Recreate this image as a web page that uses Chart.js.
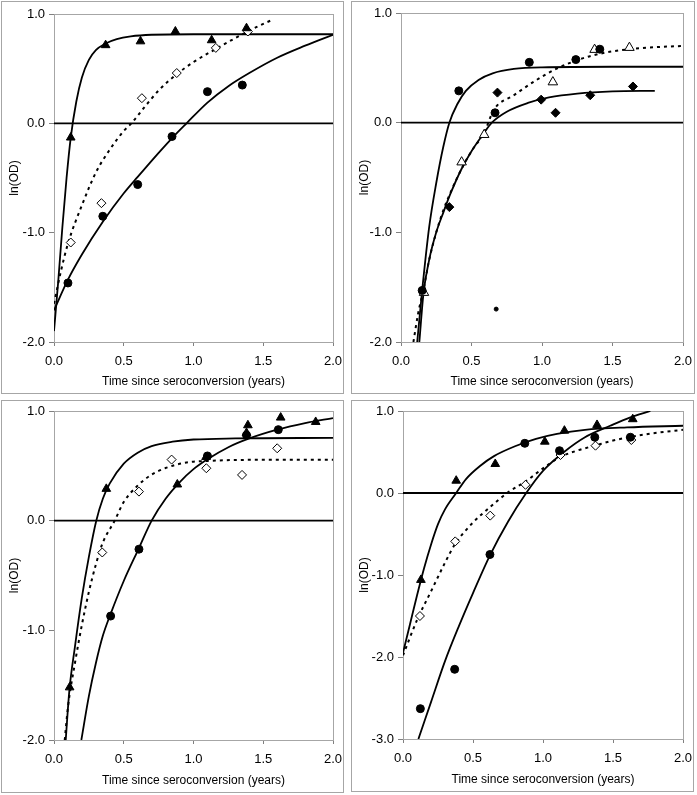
<!DOCTYPE html>
<html>
<head>
<meta charset="utf-8">
<script src="https://cdn.jsdelivr.net/npm/chart.js@4/dist/chart.umd.min.js"></script>
<style>
  body { margin: 0; background: #fff; width: 697px; height: 795px; position: relative; overflow: hidden; }
  .panel { position: absolute; box-sizing: border-box; border: 1px solid #a6a6a6; }
  canvas { position: absolute; }
</style>
</head>
<body>
<div class="panel" style="left:1px;top:1px;width:343px;height:393px"></div>
<div class="panel" style="left:351px;top:1px;width:344px;height:393px"></div>
<div class="panel" style="left:1px;top:400px;width:343px;height:393px"></div>
<div class="panel" style="left:351px;top:400px;width:343px;height:392px"></div>
<canvas id="c1" width="341" height="391" style="left:2px;top:2px"></canvas>
<canvas id="c2" width="342" height="391" style="left:352px;top:2px"></canvas>
<canvas id="c3" width="341" height="391" style="left:2px;top:401px"></canvas>
<canvas id="c4" width="341" height="390" style="left:352px;top:401px"></canvas>
<script>
// x tick values and the zero reference line
var xTickValues = [0.0, 0.5, 1.0, 1.5, 2.0];
var zeroLine = [[0, 0], [2, 0]];

// panel 1 (top left)
var p1Triangles = [[0.12,-0.13],[0.37,0.715],[0.62,0.75],[0.87,0.84],[1.13,0.76],[1.38,0.87]];
var p1Diamonds = [[0.12,-1.09],[0.34,-0.73],[0.63,0.23],[0.88,0.46],[1.16,0.69],[1.39,0.84]];
var p1Circles = [[0.10,-1.46],[0.35,-0.85],[0.60,-0.56],[0.846,-0.12],[1.10,0.29],[1.35,0.35]];
var p1TriCurve = [[0,-1.9],[0.03,-1.45],[0.06,-0.95],[0.09,-0.5],[0.12,-0.13],[0.16,0.2],[0.2,0.42],[0.25,0.58],[0.3,0.67],[0.37,0.73],[0.45,0.77],[0.55,0.795],[0.7,0.81],[1.0,0.815],[2.0,0.815]];
var p1DiaCurve = [[0,-1.65],[0.05,-1.35],[0.1,-1.1],[0.2,-0.75],[0.3,-0.45],[0.4,-0.24],[0.5,-0.07],[0.555,0],[0.65,0.15],[0.75,0.3],[0.88,0.45],[1.0,0.56],[1.16,0.68],[1.3,0.78],[1.45,0.88],[1.57,0.95]];
var p1CirCurve = [[0,-1.71],[0.1,-1.43],[0.2,-1.2],[0.35,-0.9],[0.5,-0.64],[0.6,-0.49],[0.75,-0.27],[0.85,-0.13],[0.95,0],[1.1,0.19],[1.25,0.34],[1.4,0.46],[1.6,0.6],[1.8,0.71],[2.0,0.81]];

// panel 2 (top right)
var p2Circles = [[0.15,-1.53],[0.41,0.29],[0.667,0.09],[0.91,0.55],[1.24,0.575],[1.41,0.67]];
var p2SmallDot = [[0.675,-1.70]];
var p2Triangles = [[0.163,-1.55],[0.43,-0.36],[0.59,-0.11],[1.077,0.37],[1.373,0.666],[1.62,0.684]];
var p2Diamonds = [[0.343,-0.77],[0.684,0.274],[0.994,0.21],[1.096,0.09],[1.342,0.25],[1.645,0.33]];
var p2CirCurve = [[0.115,-2.0],[0.15,-1.53],[0.2,-0.95],[0.25,-0.55],[0.3,-0.22],[0.343,0],[0.4,0.17],[0.46,0.29],[0.55,0.39],[0.65,0.45],[0.8,0.49],[1.0,0.505],[1.5,0.51],[2.0,0.51]];
var p2DiaCurve = [[0.13,-2.0],[0.16,-1.55],[0.2,-1.25],[0.25,-1.0],[0.3,-0.82],[0.35,-0.65],[0.43,-0.42],[0.5,-0.26],[0.58,-0.11],[0.644,0],[0.75,0.1],[0.9,0.18],[1.05,0.23],[1.25,0.265],[1.5,0.285],[1.8,0.29]];
var p2TriCurve = [[0.088,-2.0],[0.12,-1.75],[0.163,-1.5],[0.2,-1.25],[0.25,-1.0],[0.3,-0.8],[0.35,-0.64],[0.43,-0.42],[0.5,-0.26],[0.59,-0.09],[0.66,0.12],[0.8,0.25],[0.95,0.38],[1.1,0.49],[1.25,0.57],[1.35,0.61],[1.5,0.65],[1.7,0.68],[2.0,0.7]];

// panel 3 (bottom left)
var p3Triangles = [[0.112,-1.52],[0.375,0.29],[0.884,0.33],[1.09,0.58],[1.38,0.80],[1.39,0.87],[1.625,0.94],[1.876,0.90]];
var p3Circles = [[0.406,-0.87],[0.609,-0.26],[1.10,0.59],[1.38,0.78],[1.608,0.83]];
var p3Diamonds = [[0.346,-0.29],[0.609,0.265],[0.843,0.557],[1.092,0.478],[1.348,0.417],[1.60,0.66]];
var p3TriCurve = [[0.084,-2.0],[0.11,-1.55],[0.15,-1.15],[0.2,-0.7],[0.25,-0.33],[0.303,0],[0.35,0.2],[0.4,0.34],[0.5,0.52],[0.6,0.62],[0.7,0.68],[0.85,0.72],[1.0,0.74],[1.3,0.75],[2.0,0.755]];
var p3DiaCurve = [[0.077,-2.0],[0.1,-1.7],[0.15,-1.3],[0.2,-0.95],[0.25,-0.65],[0.3,-0.4],[0.35,-0.2],[0.435,0],[0.5,0.17],[0.6,0.32],[0.7,0.42],[0.8,0.48],[0.95,0.53],[1.1,0.545],[1.5,0.555],[2.0,0.555]];
var p3CirCurve = [[0.196,-2.0],[0.25,-1.6],[0.3,-1.3],[0.35,-1.05],[0.406,-0.85],[0.5,-0.55],[0.609,-0.25],[0.7,0],[0.8,0.2],[0.9,0.35],[1.0,0.47],[1.1,0.56],[1.25,0.67],[1.4,0.75],[1.6,0.83],[1.8,0.89],[2.0,0.935]];

// panel 4 (bottom right)
var p4Triangles = [[0.128,-1.06],[0.38,0.15],[0.659,0.354],[1.013,0.626],[1.153,0.76],[1.386,0.83],[1.641,0.90]];
var p4Circles = [[0.124,-2.63],[0.369,-2.15],[0.621,-0.75],[0.87,0.606],[1.118,0.516],[1.37,0.68],[1.624,0.68]];
var p4Diamonds = [[0.121,-1.50],[0.373,-0.59],[0.623,-0.276],[0.875,0.10],[1.125,0.463],[1.375,0.577],[1.631,0.646]];
var p4TriCurve = [[0,-1.95],[0.05,-1.6],[0.1,-1.25],[0.15,-0.92],[0.2,-0.63],[0.25,-0.38],[0.3,-0.2],[0.38,0],[0.45,0.17],[0.55,0.33],[0.65,0.45],[0.8,0.57],[0.95,0.66],[1.1,0.72],[1.3,0.77],[1.6,0.8],[2.0,0.82]];
var p4DiaCurve = [[0,-1.98],[0.1,-1.55],[0.2,-1.2],[0.3,-0.85],[0.373,-0.62],[0.5,-0.36],[0.623,-0.17],[0.744,0],[0.875,0.14],[1.0,0.3],[1.125,0.44],[1.25,0.52],[1.375,0.58],[1.5,0.64],[1.75,0.72],[2.0,0.77]];
var p4CirCurve = [[0.11,-3.0],[0.2,-2.55],[0.3,-2.05],[0.4,-1.62],[0.5,-1.22],[0.621,-0.76],[0.75,-0.35],[0.88,0],[1.0,0.27],[1.15,0.5],[1.3,0.68],[1.48,0.82],[1.62,0.92],[1.767,1.0]];

function pts(arr){
  return arr.map(function(p){ return {x:p[0], y:p[1]}; });
}

function curve(arr, dotted){
  return {
    data: pts(arr), showLine: true, pointRadius: 0, borderColor: "#000",
    borderWidth: dotted ? 2 : 1.8, borderDash: dotted ? [3,4] : [],
    cubicInterpolationMode: "monotone", fill: false, order: 2
  };
}

function marks(arr, style, open, r){
  return {
    data: pts(arr), showLine: false, pointStyle: style, pointRadius: r,
    backgroundColor: open ? "#fff" : "#000", borderColor: "#000",
    borderWidth: 1, order: 1
  };
}

var boxPlugin = {
  id: "box",
  beforeDatasetsDraw: function(chart){
    var a = chart.chartArea, ctx = chart.ctx;
    ctx.save();
    ctx.strokeStyle = "#a6a6a6";
    ctx.lineWidth = 1;
    ctx.strokeRect(Math.round(a.left)+0.5, Math.round(a.top)+0.5, Math.round(a.right-a.left), Math.round(a.bottom-a.top));
    ctx.restore();
  }
};

function makePanel(id, area, yMin, datasets){
  var cv = document.getElementById(id);
  var w = cv.width, h = cv.height;
  datasets.unshift({
    data: pts(zeroLine), showLine: true, pointRadius: 0, borderColor: "#000",
    borderWidth: 1.8, order: 3
  });
  new Chart(cv, {
    type: "scatter",
    data: { datasets: datasets },
    options: {
      responsive: false, animation: false,
      layout: { padding: { top: area.top, right: w - area.right, left: 0, bottom: 0 } },
      plugins: { legend: { display: false }, tooltip: { enabled: false } },
      scales: {
        x: {
          type: "linear", min: 0, max: 2,
          afterFit: function(s){ s.height = h - area.bottom; s.paddingLeft = 0; s.paddingRight = 0; },
          afterBuildTicks: function(s){ s.ticks = xTickValues.map(function(v){ return {value: v}; }); },
          grid: { drawOnChartArea: false, drawTicks: true, tickLength: 4, color: "#808080" },
          border: { display: true, color: "#808080", width: 1 },
          ticks: { color: "#000", font: { family: "Liberation Sans", size: 13 }, padding: 8, maxRotation: 0,
                   callback: function(v){ return v.toFixed(1); } },
          title: { display: true, text: "Time since seroconversion (years)", color: "#000",
                   font: { family: "Liberation Sans", size: 12 }, padding: { top: 2, bottom: 4 } }
        },
        y: {
          type: "linear", min: yMin, max: 1,
          afterFit: function(s){ s.width = area.left; s.paddingTop = 0; s.paddingBottom = 0; },
          ticks: { stepSize: 1, color: "#000", font: { family: "Liberation Sans", size: 13 }, padding: 4,
                   callback: function(v){ return v.toFixed(1); } },
          grid: { drawOnChartArea: false, drawTicks: true, tickLength: 5, color: "#808080" },
          border: { display: true, color: "#808080", width: 1 },
          title: { display: true, text: "ln(OD)", color: "#000",
                   font: { family: "Liberation Sans", size: 12 }, padding: { top: 5, bottom: 0 } }
        }
      }
    },
    plugins: [boxPlugin]
  });
}

makePanel("c1", {left:52, top:12, right:331, bottom:340}, -2, [
  curve(p1TriCurve, false), curve(p1DiaCurve, true), curve(p1CirCurve, false),
  marks(p1Triangles, "triangle", false, 5), marks(p1Diamonds, "rectRot", true, 4.5), marks(p1Circles, "circle", false, 4)
]);
makePanel("c2", {left:49, top:11, right:331, bottom:340}, -2, [
  curve(p2CirCurve, false), curve(p2DiaCurve, false), curve(p2TriCurve, true),
  marks(p2Circles, "circle", false, 4), marks(p2SmallDot, "circle", false, 2),
  marks(p2Triangles, "triangle", true, 5.5), marks(p2Diamonds, "rectRot", false, 4.5)
]);
makePanel("c3", {left:52, top:10, right:331, bottom:339}, -2, [
  curve(p3TriCurve, false), curve(p3DiaCurve, true), curve(p3CirCurve, false),
  marks(p3Triangles, "triangle", false, 5), marks(p3Circles, "circle", false, 4), marks(p3Diamonds, "rectRot", true, 4.5)
]);
makePanel("c4", {left:51, top:10, right:331, bottom:338}, -3, [
  curve(p4TriCurve, false), curve(p4DiaCurve, true), curve(p4CirCurve, false),
  marks(p4Triangles, "triangle", false, 5), marks(p4Circles, "circle", false, 4), marks(p4Diamonds, "rectRot", true, 4.5)
]);
</script>
</body>
</html>
